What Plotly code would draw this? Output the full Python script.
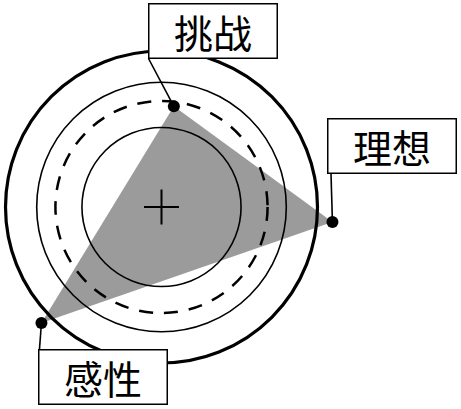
import numpy as np
import plotly.graph_objects as go

# ---- data ----
labels = ["挑战", "理想", "感性"]
values = [65, 110, 107]          # radial value of each vertex (outer ring = 100)
angles_deg = [83, -5, 224]       # direction of each axis
ring_radii = [100, 80, 68, 51]   # reference rings

# ---- layout constants ----
W, H = 461, 409
PX = 1.56                 # pixels per data unit
CX, CY = 161.5, 207.0     # centre in pixels

def px_to_data(px, py):
    return (px - CX) / PX, (CY - py) / PX

theta = np.deg2rad(np.array(angles_deg, dtype=float))
r = np.array(values, dtype=float)
xs = r * np.cos(theta)
ys = r * np.sin(theta)

fig = go.Figure()

# filled triangle
fig.add_trace(go.Scatter(
    x=np.append(xs, xs[0]), y=np.append(ys, ys[0]),
    mode="lines", fill="toself", fillcolor="#9b9b9b",
    line=dict(width=0, color="#9b9b9b"), hoverinfo="skip", showlegend=False))

# ring shapes
ring_styles = [
    dict(width=3.2, dash="solid"),
    dict(width=1.6, dash="solid"),
    dict(width=2.5, dash="14px,11px"),
    dict(width=1.6, dash="solid"),
]
for rr, st in zip(ring_radii, ring_styles):
    fig.add_shape(type="circle", xref="x", yref="y",
                  x0=-rr, x1=rr, y0=-rr, y1=rr,
                  line=dict(color="black", width=st["width"], dash=st["dash"]),
                  fillcolor="rgba(0,0,0,0)", layer="above")

# label boxes (pixel centres) and leader-line tails (pixels)
box_centres_px = [(213, 31), (392, 146), (103, 377)]
leader_tails_px = [(148.5, 58.5), (331, 174), (39.5, 349)]

for i, lab in enumerate(labels):
    tx, ty = px_to_data(*leader_tails_px[i])
    fig.add_trace(go.Scatter(x=[tx, xs[i]], y=[ty, ys[i]], mode="lines",
                             line=dict(color="black", width=1.6),
                             hoverinfo="skip", showlegend=False))

# vertex dots
fig.add_trace(go.Scatter(x=xs, y=ys, mode="markers",
                         marker=dict(size=12, color="black"),
                         hoverinfo="skip", showlegend=False))

# centre cross
fig.add_trace(go.Scatter(x=[0], y=[0], mode="markers",
                         marker=dict(symbol="cross-thin", size=25,
                                     line=dict(width=2, color="black")),
                         hoverinfo="skip", showlegend=False))

for i, lab in enumerate(labels):
    bx, by = px_to_data(*box_centres_px[i])
    fig.add_annotation(x=bx, y=by, xref="x", yref="y", text=lab,
                       showarrow=False, width=127, height=53,
                       bgcolor="white", bordercolor="black", borderwidth=1.5,
                       borderpad=0,
                       font=dict(family="Noto Sans CJK SC", size=39, color="black"))

x0, _ = px_to_data(0, 0)
x1, _ = px_to_data(W, 0)
_, y1 = px_to_data(0, 0)
_, y0 = px_to_data(0, H)

fig.update_layout(
    width=W, height=H, margin=dict(l=0, r=0, t=0, b=0),
    paper_bgcolor="white", plot_bgcolor="white", showlegend=False,
    xaxis=dict(range=[x0, x1], visible=False, fixedrange=True),
    yaxis=dict(range=[y0, y1], visible=False, fixedrange=True),
)

fig.write_html("out.html", config={"displayModeBar": False},
               post_script="document.body.style.margin='0px';document.body.style.overflow='hidden';")
